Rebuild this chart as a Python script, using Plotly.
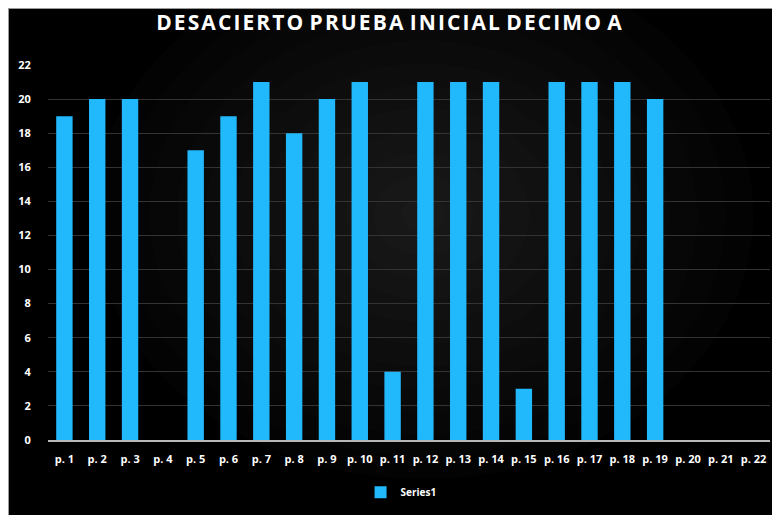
import plotly.graph_objects as go

# Datos: desaciertos por pregunta
preguntas = [f"p. {i}" for i in range(1, 23)]
desaciertos = [19, 20, 20, 0, 17, 19, 21, 18, 20, 21, 4, 21, 21, 21, 3, 21, 21, 21, 20, 0, 0, 0]
y_ticks = [0, 2, 4, 6, 8, 10, 12, 14, 16, 18, 20, 22]

TITLE = 'DESACIERTO PRUEBA INICIAL DECIMO A'
BAR_COLOR = '#22b8fc'

# page body adds 8px of white around the figure, so the figure is a bit smaller
W, H = 772, 507

fig = go.Figure()

fig.add_trace(go.Bar(
    x=preguntas,
    y=desaciertos,
    name='Series1',
    marker=dict(color=BAR_COLOR, line=dict(width=0)),
    showlegend=True
))

# soft radial glow in the middle of the plot area
shapes = []
for r in range(330, 20, -28):
    shapes.append(dict(
        type='circle', layer='below',
        xref='paper', yref='paper',
        xsizemode='pixel', ysizemode='pixel',
        xanchor=0.52, yanchor=0.6,
        x0=-r, x1=r, y0=-r * 0.8, y1=r * 0.8,
        fillcolor='rgba(255,255,255,0.012)', line=dict(width=0)
    ))

# thin grey frame on the left and top edge
shapes.append(dict(
    type='line', layer='above',
    xref='paper', yref='paper', xsizemode='pixel', xanchor=0,
    x0=-39.5, x1=-39.5, y0=-0.3, y1=1.3,
    line=dict(color='#9a9a9a', width=1)
))
shapes.append(dict(
    type='line', layer='above',
    xref='paper', yref='paper', ysizemode='pixel', yanchor=1,
    x0=-0.1, x1=1.1, y0=56.5, y1=56.5,
    line=dict(color='#9a9a9a', width=1)
))

# letter-spaced title (hair spaces between letters, wider gap between words)
spaced = '&#8202;&#8202;&#8202;'.join('&#8202;'.join(word) for word in TITLE.split(' '))

fig.update_layout(
    width=W, height=H,
    margin=dict(l=40, r=10, t=57, b=74),
    paper_bgcolor='black',
    plot_bgcolor='black',
    bargap=0.5,
    shapes=shapes,
    title=dict(
        text=f'<b>{spaced}</b>',
        x=0.4935, xanchor='center', y=0.972, yanchor='middle',
        font=dict(family='Open Sans', size=21, color='white')
    ),
    legend=dict(
        orientation='h', x=0.489, xanchor='center', y=-0.136, yanchor='middle',
        font=dict(family='Open Sans', size=10, color='white', weight='bold'),
        itemwidth=30
    ),
    font=dict(family='Open Sans', color='white')
)

fig.update_xaxes(
    showgrid=False,
    showline=True, linecolor='#b8b8b8', linewidth=2,
    ticks='outside', ticklen=8, tickcolor='rgba(0,0,0,0)',
    tickfont=dict(family='Open Sans', size=11, color='white', weight='bold')
)
fig.update_yaxes(
    range=[0, 22], tickvals=y_ticks,
    showgrid=True, gridcolor='#333333', gridwidth=1,
    zeroline=False,
    ticks='outside', ticklen=14, tickcolor='rgba(0,0,0,0)',
    tickfont=dict(family='Open Sans', size=11, color='white', weight='bold')
)

fig.write_html("out.html")
